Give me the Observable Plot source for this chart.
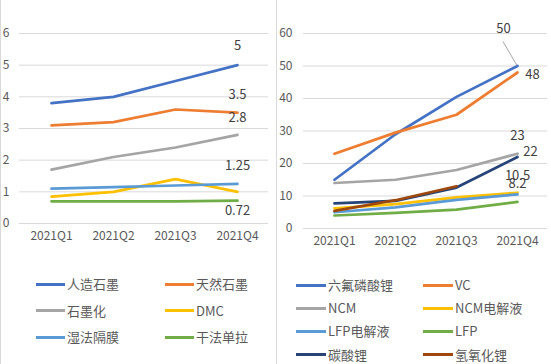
<!DOCTYPE html>
<html><head><meta charset="utf-8">
<script src="https://cdn.jsdelivr.net/npm/d3@7"></script>
<script src="https://cdn.jsdelivr.net/npm/@observablehq/plot@0.6"></script>
<style>
body{margin:0;background:#fff;font-family:"Noto Sans CJK SC","Noto Sans",sans-serif;}
#wrap{position:relative;width:551px;height:364px;overflow:hidden;background:#fff;}
.panel{position:absolute;top:0;}
.lg{position:absolute;font-size:13px;color:#595959;white-space:nowrap;line-height:16px;}
.sw{position:absolute;height:3px;}
.vline{position:absolute;top:0;height:364px;background:#d9d9d9;}
</style></head>
<body><div id="wrap"></div>
<script>
const quarters = ["2021Q1","2021Q2","2021Q3","2021Q4"];

const leftSeries = ["人造石墨","天然石墨","石墨化","DMC","湿法隔膜","干法单拉"];
const leftValues = [
  [3.8,4.0,4.5,5.0],
  [3.1,3.2,3.6,3.5],
  [1.7,2.1,2.4,2.8],
  [0.85,1.0,1.4,1.0],
  [1.1,1.15,1.2,1.25],
  [0.7,0.7,0.7,0.72]
];
const leftColors = ["#4472C4","#ED7D31","#A5A5A5","#FFC000","#5B9BD5","#70AD47"];
const leftTicks = [0,1,2,3,4,5,6];
const leftLabelSeries = ["人造石墨","天然石墨","石墨化","湿法隔膜","干法单拉"];
const leftLabelText = ["5","3.5","2.8","1.25","0.72"];

const rightSeries = ["六氟磷酸锂","VC","NCM","NCM电解液","LFP电解液","LFP","碳酸锂","氢氧化锂"];
const rightValues = [
  [15,29,40.5,50],
  [23,29.5,35,48],
  [14,15,18,23],
  [6.2,7.5,9.6,11],
  [5,6.5,8.8,10.5],
  [4,4.8,5.8,8.2],
  [7.7,8.5,12.6,22],
  [5.4,8.7,13,null]
];
const rightColors = ["#4472C4","#ED7D31","#A5A5A5","#FFC000","#5B9BD5","#70AD47","#264478","#9E480E"];
const rightTicks = [0,10,20,30,40,50,60];
const rightLabelSeries = ["六氟磷酸锂","VC","NCM","碳酸锂","LFP电解液","LFP"];
const rightLabelText = ["50","48","23","22","10.5","8.2"];

// label offsets (styling)
const leftOffsets = [[0,-19],[0,-18],[0,-17],[0,-18],[0,10]];
const rightOffsets = [[-14,-37],[15,2],[0,-18],[13,-5],[0,-19],[0,-18]];

function tidy(series, values){
  const out = [];
  series.forEach((s,i)=>quarters.forEach((q,j)=>out.push({series:s, q, v: values[i][j]})));
  return out;
}

function labelMarks(series, values, labSeries, labText, offsets){
  return labSeries.map((s,k)=>{
    const i = series.indexOf(s);
    return Plot.text([{q:"2021Q4", v: values[i][3], t: labText[k]}], {
      x:"q", y:"v", text:"t", dx: offsets[k][0], dy: offsets[k][1],
      fill:"#404040", fontSize:13
    });
  });
}

function makePlot(opts){
  const data = tidy(opts.series, opts.values);
  return Plot.plot({
    width: opts.width, height: 250,
    marginLeft: opts.ml, marginRight: 4, marginTop: 33, marginBottom: opts.mb,
    style:{fontSize:"12px", fontFamily:'"Noto Sans CJK SC","Noto Sans",sans-serif', color:"#595959", background:"transparent"},
    x:{type:"point", domain: quarters, padding:0.5, label:null},
    y:{domain:[opts.ticks[0], opts.ticks[opts.ticks.length-1]], label:null},
    color:{domain: opts.series, range: opts.colors},
    marks:[
      Plot.ruleY(opts.ticks, {stroke:"#d9d9d9", strokeWidth:1}),
      Plot.axisY(opts.ticks, {tickSize:0, tickPadding: opts.tp, label:null, fontSize:12}),
      Plot.axisX({tickSize:0, tickPadding:8, label:null, fontSize:12}),
      Plot.line(data, {x:"q", y:"v", z:"series", stroke:"series", strokeWidth:2.75, strokeLinecap:"round", strokeLinejoin:"round"}),
      ...(opts.extra || []),
      ...labelMarks(opts.series, opts.values, opts.labSeries, opts.labText, opts.offsets)
    ]
  });
}

const wrap = document.getElementById("wrap");

const leftPlot = makePlot({width:272, ml:19, mb:27, tp:10, series:leftSeries, values:leftValues, colors:leftColors, ticks:leftTicks, labSeries:leftLabelSeries, labText:leftLabelText, offsets:leftOffsets});
const lp = document.createElement("div"); lp.className="panel"; lp.style.left="0px"; lp.appendChild(leftPlot); wrap.appendChild(lp);

// leader line for the "50" label, positioned through the plot's scales
const leader = (index, scales) => {
  const x2 = scales.x("2021Q4"), y2 = scales.y(rightValues[0][3]);
  const l = document.createElementNS("http://www.w3.org/2000/svg","line");
  l.setAttribute("x1", x2-14); l.setAttribute("y1", y2-24);
  l.setAttribute("x2", x2); l.setAttribute("y2", y2);
  l.setAttribute("stroke","#a6a6a6"); l.setAttribute("stroke-width","1");
  const g = document.createElementNS("http://www.w3.org/2000/svg","g"); g.appendChild(l);
  return g;
};

const rightPlot = makePlot({width:274, ml:26, mb:22, tp:11, series:rightSeries, values:rightValues, colors:rightColors, ticks:rightTicks, labSeries:rightLabelSeries, labText:rightLabelText, offsets:rightOffsets, extra:[leader]});
const rp = document.createElement("div"); rp.className="panel"; rp.style.left="277px"; rp.appendChild(rightPlot); wrap.appendChild(rp);

// borders
[[0,1],[275.5,1.5]].forEach(([x,w])=>{const d=document.createElement("div");d.className="vline";d.style.left=x+"px";d.style.width=w+"px";wrap.appendChild(d);});

function legend(series, colors, x0, colStep, y0, rowStep, swW){
  series.forEach((s,i)=>{
    const row=Math.floor(i/2), col=i%2;
    const cy = y0 + row*rowStep, x = x0 + col*colStep;
    const sw=document.createElement("div"); sw.className="sw";
    sw.style.left=x+"px"; sw.style.top=(cy-1.5)+"px"; sw.style.width=swW+"px"; sw.style.background=colors[i];
    wrap.appendChild(sw);
    const t=document.createElement("div"); t.className="lg"; t.textContent=s;
    t.style.left=(x+swW+2)+"px"; t.style.top=(cy-8)+"px";
    wrap.appendChild(t);
  });
}
legend(leftSeries, leftColors, 36, 129, 284, 26.5, 29);
legend(rightSeries, rightColors, 296, 127, 285, 23.2, 30);
</script></body></html>
